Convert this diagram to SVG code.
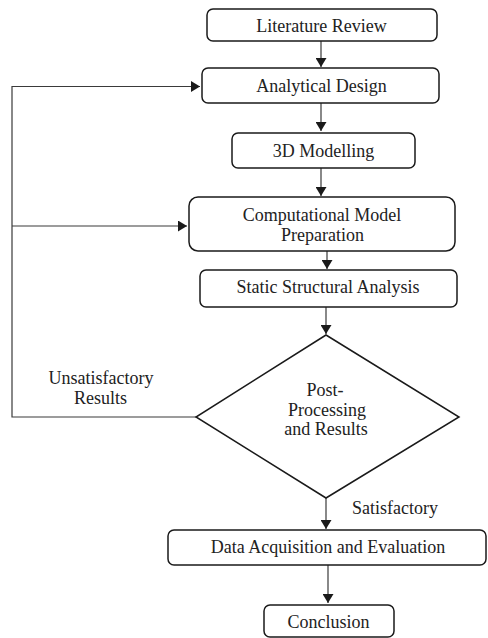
<svg xmlns="http://www.w3.org/2000/svg" width="488" height="638" viewBox="0 0 488 638">
<defs>
<marker id="ah" viewBox="0 0 9 11" refX="9" refY="5.5" markerWidth="9" markerHeight="11" markerUnits="userSpaceOnUse" orient="auto">
<path d="M0,0 L9,5.5 L0,11 z" fill="#1a1a1a"/>
</marker>
<style>
.box{fill:#fff;stroke:#1a1a1a;stroke-width:1.5}
.t{font-family:"Liberation Serif","Times New Roman",serif;font-size:18px;fill:#222;text-anchor:middle}
.c{fill:none;stroke:#3a3a3a;stroke-width:1.2}
</style>
</defs>
<rect width="488" height="638" fill="#fff"/>
<g id="connectors">
<path class="c" d="M321,41 V67" marker-end="url(#ah)"/>
<path class="c" d="M321,103 V131" marker-end="url(#ah)"/>
<path class="c" d="M321,168 V196" marker-end="url(#ah)"/>
<path class="c" d="M327,251 V269" marker-end="url(#ah)"/>
<path class="c" d="M326,307 V334" marker-end="url(#ah)"/>
<path class="c" d="M326,498 V529" marker-end="url(#ah)"/>
<path class="c" d="M328,565 V603" marker-end="url(#ah)"/>
<path class="c" d="M196,417 H12 V86.5 H200" marker-end="url(#ah)"/>
<path class="c" d="M12,226 H187" marker-end="url(#ah)"/>
<text class="t" x="101" y="384">Unsatisfactory</text>
<text class="t" x="100.5" y="404">Results</text>
<text class="t" x="395" y="514">Satisfactory</text>
</g>
<g id="literature-review">
<rect class="box" x="207" y="9" width="230" height="32" rx="6"/>
<text class="t" x="321.5" y="32">Literature Review</text>
</g>
<g id="analytical-design">
<rect class="box" x="202" y="68" width="237" height="35" rx="6"/>
<text class="t" x="321.5" y="92">Analytical Design</text>
</g>
<g id="modelling-3d">
<rect class="box" x="232" y="133" width="183" height="35" rx="6"/>
<text class="t" x="323.5" y="157">3D Modelling</text>
</g>
<g id="computational-model">
<rect class="box" x="189" y="197" width="266" height="54" rx="9"/>
<text class="t" x="322" y="221">Computational Model</text>
<text class="t" x="322.5" y="240.5">Preparation</text>
</g>
<g id="static-analysis">
<rect class="box" x="200" y="270" width="257" height="37" rx="6"/>
<text class="t" x="328" y="293">Static Structural Analysis</text>
</g>
<g id="post-processing">
<polygon class="box" points="326,335 459,417 326,498 196,417"/>
<text class="t" x="325" y="396">Post-</text>
<text class="t" x="327" y="416">Processing</text>
<text class="t" x="326" y="435">and Results</text>
</g>
<g id="data-acquisition">
<rect class="box" x="168" y="530" width="318" height="35" rx="6"/>
<text class="t" x="328" y="553">Data Acquisition and Evaluation</text>
</g>
<g id="conclusion">
<rect class="box" x="264" y="605" width="130" height="32" rx="6"/>
<text class="t" x="328.5" y="628">Conclusion</text>
</g>
</svg>
